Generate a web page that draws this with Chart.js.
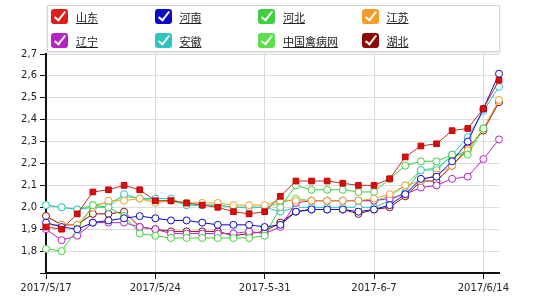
<!DOCTYPE html>
<html>
<head>
<meta charset="utf-8">
<script src="https://cdn.jsdelivr.net/npm/chart.js@4/dist/chart.umd.min.js"></script>
<style>
  body { margin: 0; background: #fff; }
  #wrap { position: relative; width: 550px; height: 300px; }
  #legend {
    position: absolute; left: 47px; top: 5px; width: 451px; height: 45px;
    border: 1px solid #d4d4d4; background: #fff; box-shadow: 0 1px 2px rgba(0,0,0,0.12);
  }
  .item { position: absolute; height: 16px; }
  .box {
    position: absolute; left: 0; top: 0; width: 17px; height: 15px; border-radius: 3px;
  }
  .box::after {
    content: ""; position: absolute; left: 6px; top: 0px; width: 4px; height: 10px;
    border-right: 2px solid #fff; border-bottom: 2px solid #fff; transform: rotate(38deg);
  }
  .txt {
    position: absolute; left: 25px; top: 0px; white-space: nowrap;
    font: 11px "Noto Sans CJK SC", sans-serif; color: #222; text-decoration: underline;
    line-height: 16px;
  }
</style>
</head>
<body>
<div id="wrap">
  <canvas id="chart" width="550" height="300"></canvas>
  <div id="legend"></div>
</div>
<script>
// categories: one point per day, 2017/5/17 .. 2017/6/15
const dates = [
  '5/17','5/18','5/19','5/20','5/21','5/22','5/23','5/24','5/25','5/26',
  '5/27','5/28','5/29','5/30','5/31','6/1','6/2','6/3','6/4','6/5',
  '6/6','6/7','6/8','6/9','6/10','6/11','6/12','6/13','6/14','6/15'
];
// only every 7th day gets a label, written as in the picture
const tickLabels = ['2017/5/17', '2017/5/24', '2017-5-31', '2017-6-7', '2017/6/14'];
const tickStep = 7;

const names = ['山东', '河南', '河北', '江苏', '辽宁', '安徽', '中国禽病网', '湖北'];
const colors = ['#dd1c1c', '#0a0ac8', '#3fcf3f', '#f39c2a', '#b424c4', '#2cc4c0', '#5ae04a', '#8e0a0a'];

const shandong = [1.91,1.90,1.97,2.07,2.08,2.10,2.08,2.03,2.03,2.02,2.01,2.00,1.98,1.97,1.98,
                  2.05,2.12,2.12,2.12,2.11,2.10,2.10,2.13,2.23,2.28,2.29,2.35,2.36,2.45,2.58];
const henan    = [1.93,1.91,1.90,1.93,1.94,1.95,1.96,1.95,1.94,1.94,1.93,1.92,1.92,1.92,1.91,
                  1.92,1.98,1.99,1.99,1.99,1.98,1.99,2.01,2.06,2.13,2.14,2.21,2.30,2.45,2.61];
const hebei    = [1.81,1.80,1.90,2.01,2.00,1.96,1.88,1.87,1.86,1.86,1.86,1.86,1.86,1.86,1.87,
                  2.00,2.10,2.08,2.08,2.08,2.07,2.07,2.13,2.19,2.21,2.21,2.24,2.24,2.36,null];
const jiangsu  = [1.92,1.92,1.92,2.00,2.03,2.03,2.04,2.02,2.03,2.02,2.02,2.02,2.01,2.01,2.01,
                  2.03,2.03,2.03,2.03,2.03,2.03,2.04,2.06,2.10,2.12,2.15,2.19,2.26,2.36,2.49];
const liaoning = [1.90,1.85,1.87,1.93,1.93,1.93,1.91,1.90,1.88,1.88,1.88,1.88,1.88,1.89,1.88,
                  1.91,2.02,2.03,2.03,2.03,2.03,2.03,2.04,2.06,2.09,2.10,2.13,2.14,2.22,2.31];
const anhui    = [2.01,2.00,1.99,2.00,2.00,2.06,2.04,2.04,2.04,2.01,2.01,2.01,2.00,2.00,2.00,
                  1.98,2.00,2.00,2.00,2.00,2.00,2.00,2.03,2.07,2.17,2.17,2.24,2.32,2.44,2.55];
const qinbing  = [2.01,2.00,1.99,2.01,2.02,2.05,2.04,2.03,2.03,2.01,2.01,2.01,2.00,2.00,2.00,
                  2.02,2.04,2.03,2.03,2.03,2.03,2.03,2.05,2.10,2.17,2.18,2.23,2.26,2.36,null];
const hubei    = [1.96,1.92,1.92,1.97,1.97,1.98,1.91,1.90,1.89,1.89,1.89,1.89,1.87,1.88,1.89,
                  1.93,1.98,1.99,1.99,1.99,1.97,1.99,2.00,2.05,2.12,2.12,2.19,2.27,2.35,2.48];

const series = [shandong, henan, hebei, jiangsu, liaoning, anhui, qinbing, hubei];

// html legend with checkbox look, 4 columns x 2 rows
const legend = document.getElementById('legend');
names.forEach((name, i) => {
  const item = document.createElement('div');
  item.className = 'item';
  item.style.left = (3 + (i % 4) * 103.5) + 'px';
  item.style.top = (Math.floor(i / 4) === 0 ? 3 : 27) + 'px';
  item.innerHTML = `<span class="box" style="background:${colors[i]}"></span><span class="txt">${name}</span>`;
  legend.appendChild(item);
});

const datasets = series.map((data, i) => {
  const isRed = i === 0;
  return {
    label: names[i],
    data: data,
    borderColor: isRed ? '#b8302a' : colors[i],
    borderWidth: 1,
    pointStyle: isRed ? 'rect' : 'circle',
    pointRadius: isRed ? 4 : 3.5,
    pointBackgroundColor: isRed ? '#d41010' : '#fff',
    pointBorderColor: isRed ? '#c00' : colors[i],
    pointBorderWidth: 1,
    tension: 0,
    spanGaps: false
  };
});

new Chart(document.getElementById('chart'), {
  type: 'line',
  data: { labels: dates, datasets: datasets },
  options: {
    responsive: false,
    animation: false,
    layout: { padding: { top: 54, right: 51, left: 0, bottom: 0 } },
    plugins: { legend: { display: false }, tooltip: { enabled: false } },
    scales: {
      x: {
        offset: false,
        border: { color: '#111', width: 2 },
        grid: { color: '#d8d8d8', tickColor: '#111', tickLength: 6, drawOnChartArea: true },
        ticks: {
          autoSkip: false, maxRotation: 0, padding: 3,
          color: '#222', font: { family: 'DejaVu Sans', size: 10 },
          callback: function(val, idx) {
            return idx % tickStep === 0 ? tickLabels[idx / tickStep] : null;
          }
        },
        afterFit: function(scale) { scale.height = 27; }
      },
      y: {
        min: 1.7, max: 2.7,
        border: { color: '#111', width: 2 },
        grid: { color: '#dcdcdc', tickColor: '#111', tickLength: 6 },
        ticks: {
          stepSize: 0.1, padding: 3,
          color: '#222', font: { family: 'DejaVu Sans', size: 10 },
          callback: function(v) {
            return v < 1.75 ? '' : v.toFixed(1).replace('.', ',');
          }
        },
        afterFit: function(scale) { scale.width = 46; }
      }
    }
  }
});
</script>
</body>
</html>
